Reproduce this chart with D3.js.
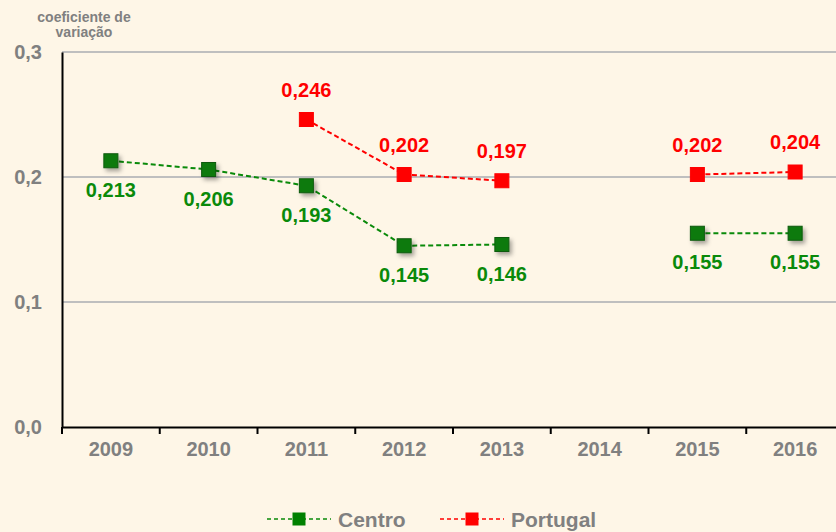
<!DOCTYPE html>
<html>
<head>
<meta charset="utf-8">
<script src="https://cdn.jsdelivr.net/npm/d3@7"></script>
<style>
  html, body { margin: 0; padding: 0; background: #FEF6E7; }
  svg { display: block; font-family: "Liberation Sans", Arial, sans-serif; }
</style>
</head>
<body>
<svg id="chart" width="836" height="532"></svg>
<script>
const years = ["2009", "2010", "2011", "2012", "2013", "2014", "2015", "2016"];
const centro = [0.213, 0.206, 0.193, 0.145, 0.146, null, 0.155, 0.155];
const portugal = [null, null, 0.246, 0.202, 0.197, null, 0.202, 0.204];
const yTicks = [0, 0.1, 0.2, 0.3];
const seriesNames = ["Centro", "Portugal"];

const fmt = v => d3.format(".3f")(v).replace(".", ",");
const fmtTick = v => d3.format(".1f")(v).replace(".", ",");
const FONT = "Liberation Sans, Arial, sans-serif";

const svg = d3.select("#chart");
const W = 836, H = 532;
const margin = { left: 62, top: 52, bottom: 105 };
const plotRight = 844;

const x = d3.scaleBand().domain(years).range([margin.left, plotRight]);
const y = d3.scaleLinear().domain([0, 0.3]).range([H - margin.bottom, margin.top]);

const defs = svg.append("defs");
const shadow = defs.append("filter").attr("id", "shadow")
  .attr("x", "-50%").attr("y", "-50%").attr("width", "250%").attr("height", "250%");
shadow.append("feDropShadow").attr("dx", 2.5).attr("dy", 3).attr("stdDeviation", 2)
  .attr("flood-color", "#000").attr("flood-opacity", 0.35);

// gridlines
svg.append("g").selectAll("line").data(yTicks.filter(t => t > 0)).join("line")
  .attr("x1", margin.left).attr("x2", W)
  .attr("y1", d => y(d)).attr("y2", d => y(d))
  .attr("stroke", "#BFBFBF").attr("stroke-width", 2);

// y axis
const yAxis = svg.append("g").attr("transform", `translate(${margin.left},0)`)
  .call(d3.axisLeft(y).tickValues(yTicks).tickFormat(fmtTick).tickSize(0).tickPadding(20));
yAxis.select(".domain").attr("stroke", "#000").attr("stroke-width", 2);
yAxis.selectAll("text").attr("fill", "#808080").attr("font-size", 20).attr("font-weight", "bold")
  .attr("font-family", FONT).attr("dy", "0.3em");

// x axis
const xAxis = svg.append("g").attr("transform", `translate(0,${y(0)})`)
  .call(d3.axisBottom(x).tickSize(0).tickPadding(15));
xAxis.select(".domain").attr("stroke", "#000").attr("stroke-width", 2);
xAxis.selectAll("text").attr("fill", "#808080").attr("font-size", 20).attr("font-weight", "bold")
  .attr("font-family", FONT);
// category boundary ticks
const bounds = years.map(d => x(d));
svg.append("g").selectAll("line").data(bounds).join("line")
  .attr("x1", d => d).attr("x2", d => d)
  .attr("y1", y(0)).attr("y2", y(0) + 7)
  .attr("stroke", "#000").attr("stroke-width", 2);

// y title
svg.append("text").attr("x", 84).attr("y", 22).attr("text-anchor", "middle")
  .attr("fill", "#808080").attr("font-size", 14).attr("font-weight", "bold")
  .text("coeficiente  de");
svg.append("text").attr("x", 84).attr("y", 37).attr("text-anchor", "middle")
  .attr("fill", "#808080").attr("font-size", 14).attr("font-weight", "bold")
  .text("variação");

const cx = d => x(d) + x.bandwidth() / 2;

function drawSeries(values, color, markerFill, markerStroke, useShadow, labelDy) {
  const pts = years.map((d, i) => ({ year: d, v: values[i] }));
  const line = d3.line().defined(p => p.v !== null).x(p => cx(p.year)).y(p => y(p.v));
  const g = svg.append("g");
  g.append("path").datum(pts).attr("d", line)
    .attr("fill", "none").attr("stroke", color).attr("stroke-width", 2)
    .attr("stroke-dasharray", "5,3");
  const valid = pts.filter(p => p.v !== null);
  g.selectAll("rect").data(valid).join("rect")
    .attr("x", p => cx(p.year) - 7).attr("y", p => y(p.v) - 7)
    .attr("width", 14).attr("height", 14)
    .attr("fill", markerFill).attr("stroke", markerStroke).attr("stroke-width", 1)
    .attr("filter", useShadow ? "url(#shadow)" : null);
  g.selectAll("text").data(valid).join("text")
    .attr("x", p => cx(p.year)).attr("y", p => y(p.v) + labelDy)
    .attr("text-anchor", "middle").attr("fill", color)
    .attr("font-size", 20).attr("font-weight", "bold")
    .text(p => fmt(p.v));
}

drawSeries(centro, "#0A8A0A", "#0B7A0B", "#0A5A0A", true, 36);
drawSeries(portugal, "#FF0000", "#FF0000", "#FF0000", false, -23);

// legend
const legend = [
  { name: seriesNames[0], color: "#0A8A0A", fill: "#008000", x0: 267 },
  { name: seriesNames[1], color: "#FF0000", fill: "#FF0000", x0: 440 }
];
const ly = 519;
legend.forEach(l => {
  const g = svg.append("g");
  g.append("line").attr("x1", l.x0).attr("x2", l.x0 + 64).attr("y1", ly).attr("y2", ly)
    .attr("stroke", l.color).attr("stroke-width", 1.6).attr("stroke-dasharray", "4,3");
  g.append("rect").attr("x", l.x0 + 32 - 6.5).attr("y", ly - 6.5).attr("width", 13).attr("height", 13)
    .attr("fill", l.fill);
  g.append("text").attr("x", l.x0 + 71).attr("y", ly + 8)
    .attr("fill", "#808080").attr("font-size", 21).attr("font-weight", "bold")
    .text(l.name);
});
</script>
</body>
</html>
